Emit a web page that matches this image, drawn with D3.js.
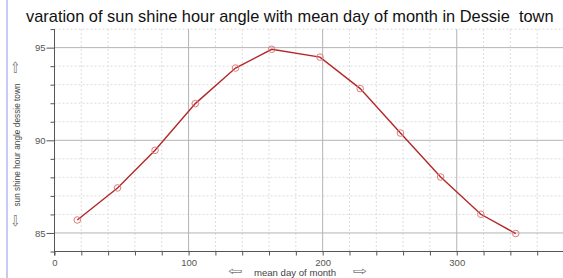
<!DOCTYPE html>
<html>
<head>
<meta charset="utf-8">
<script src="https://cdn.jsdelivr.net/npm/d3@7"></script>
<style>
  body { margin: 0; background: #fff; }
  svg text { font-family: "Liberation Sans", Arial, sans-serif; }
</style>
</head>
<body>
<div id="chart"></div>
<script>
const meanDays = [17, 47, 75, 105, 135, 162, 198, 228, 258, 288, 318, 344];
const hourAngle = [85.70, 87.43, 89.46, 91.98, 93.90, 94.91, 94.49, 92.79, 90.39, 88.02, 86.01, 84.97];
const xTicks = [0, 100, 200, 300];
const yTicks = [85, 90, 95];
const titleText = 'varation of sun shine hour angle with mean day of month in Dessie  town';
const xLabel = 'mean day of month';
const yLabel = 'sun shine hour angle dessie town';

const W = 563, H = 278;
const svg = d3.select('#chart').append('svg')
  .attr('width', W).attr('height', H);

const x = d3.scaleLinear().domain([0, 380]).range([54.5, 564]);
const y = d3.scaleLinear().domain([84, 96]).range([251.5, 29.1]);

// left border strip
svg.append('line')
  .attr('x1', 7).attr('x2', 7).attr('y1', 0).attr('y2', H)
  .attr('stroke', '#c9c9f5').attr('stroke-width', 2);

// minor grid
const gMinor = svg.append('g');
gMinor.selectAll('line.vx').data(d3.range(20, 380, 20).filter(d => d % 100))
  .enter().append('line')
    .attr('x1', d => x(d)).attr('x2', d => x(d))
    .attr('y1', y(96)).attr('y2', y(84))
    .attr('stroke', '#dcdcdc').attr('stroke-dasharray', '2,2');
gMinor.selectAll('line.hy').data(d3.range(85, 97, 1).filter(d => d % 5))
  .enter().append('line')
    .attr('x1', x(0)).attr('x2', W)
    .attr('y1', d => y(d)).attr('y2', d => y(d))
    .attr('stroke', '#dcdcdc').attr('stroke-dasharray', '2,2');

// major grid
svg.append('g').selectAll('line').data(xTicks.filter(d => d > 0))
  .enter().append('line')
    .attr('x1', d => x(d)).attr('x2', d => x(d))
    .attr('y1', y(96)).attr('y2', y(84))
    .attr('stroke', '#b4b4b4');
svg.append('g').selectAll('line').data(yTicks)
  .enter().append('line')
    .attr('x1', x(0)).attr('x2', W)
    .attr('y1', d => y(d)).attr('y2', d => y(d))
    .attr('stroke', '#b4b4b4');

// axes
const xAxis = svg.append('g')
  .attr('transform', `translate(0,${y(84)})`)
  .call(d3.axisBottom(x).tickValues(d3.range(0, 380, 20)).tickSize(4)
    .tickFormat(d => xTicks.includes(d) ? d : ''));
const yAxis = svg.append('g')
  .attr('transform', `translate(${x(0)},0)`)
  .call(d3.axisLeft(y).tickValues(d3.range(84, 97, 1)).tickSize(4)
    .tickFormat(d => yTicks.includes(d) ? d : ''));
yAxis.selectAll('.tick').filter(d => yTicks.includes(d)).select('line').attr('x2', -8);
[xAxis, yAxis].forEach(a => {
  a.select('.domain').attr('stroke', '#555');
  a.selectAll('.tick line').attr('stroke', '#555');
  a.selectAll('text').attr('fill', '#555').style('font-size', '9.5px');
});
xAxis.select('.domain').attr('d', `M${x(0)},0H${W}`);
yAxis.select('.domain').attr('d', `M0,${y(96)}V${y(84) + 4}`);
xAxis.selectAll('text').attr('y', 8).attr('dy', '0.7em');
yAxis.selectAll('text').attr('x', -9);

// line + markers
svg.append('path')
  .datum(meanDays.map((d, i) => [d, hourAngle[i]]))
  .attr('fill', 'none').attr('stroke', '#b22828').attr('stroke-width', 1.4)
  .attr('d', d3.line().x(d => x(d[0])).y(d => y(d[1])));
svg.append('g').selectAll('circle')
  .data(meanDays.map((d, i) => [d, hourAngle[i]]))
  .enter().append('circle')
    .attr('cx', d => x(d[0])).attr('cy', d => y(d[1])).attr('r', 3.3)
    .attr('fill', 'none').attr('stroke', '#e07b7b').attr('stroke-width', 1);

// title
svg.append('text')
  .attr('x', 26).attr('y', 22)
  .style('font-size', '16.4px').style('white-space', 'pre').attr('fill', '#111')
  .text(titleText);

// x label with arrows
const arrowStyle = s => s.attr('text-anchor', 'middle').attr('dominant-baseline', 'central')
  .style('font-family', 'DejaVu Sans').style('font-size', '12px').attr('fill', '#777');
svg.append('text').attr('transform', 'translate(235,271) scale(1.45,1)').call(arrowStyle).text('⇦');
svg.append('text').attr('x', 295).attr('y', 276)
  .attr('text-anchor', 'middle').style('font-size', '9.6px').attr('fill', '#444').text(xLabel);
svg.append('text').attr('transform', 'translate(360,271) scale(1.45,1)').call(arrowStyle).text('⇨');

// y label with arrows
svg.append('text').attr('transform', 'translate(20,145) rotate(-90)')
  .attr('text-anchor', 'middle').style('font-size', '8.3px').attr('fill', '#444').text(yLabel);
svg.append('text').attr('transform', 'translate(15,67) rotate(-90) scale(1.3,1)').call(arrowStyle).text('⇨');
svg.append('text').attr('transform', 'translate(15,221) rotate(-90) scale(1.3,1)').call(arrowStyle).text('⇦');
</script>
</body>
</html>
